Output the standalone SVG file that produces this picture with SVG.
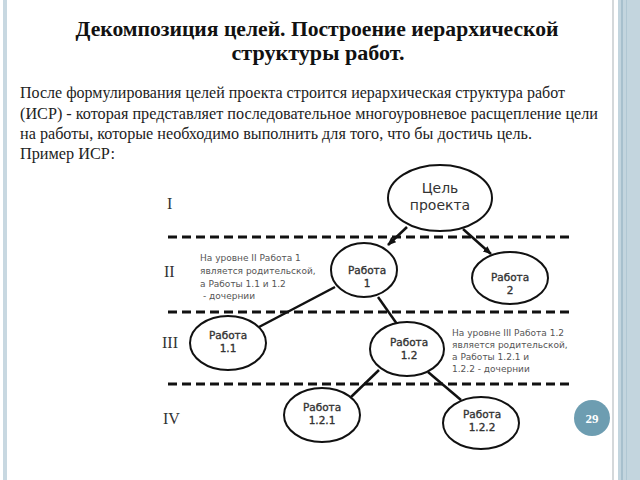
<svg xmlns="http://www.w3.org/2000/svg" width="640" height="480" viewBox="0 0 640 480">
<defs>
<style>
.title{font-family:"Liberation Serif","Times New Roman",serif;font-weight:bold;font-size:21px;fill:#111;text-anchor:middle}
.body{font-family:"Liberation Serif","Times New Roman",serif;font-size:16px;fill:#222}
.roman{font-family:"Liberation Serif","Times New Roman",serif;font-size:16px;fill:#333}
.node ellipse{fill:#fff;stroke:#111;stroke-width:2}
.nt{font-family:"DejaVu Sans",Verdana,sans-serif;font-size:10.5px;fill:#333;stroke:#333;stroke-width:0.35;text-anchor:middle}
.nt2{font-family:"DejaVu Sans",Verdana,sans-serif;font-size:14px;fill:#333;text-anchor:middle}
.note{font-family:"DejaVu Sans",Verdana,sans-serif;font-size:9px;fill:#555}
.dash{stroke:#111;stroke-width:3;stroke-dasharray:9 5;fill:none}
.conn line{stroke:#111;stroke-width:2.5}
</style>
<marker id="arr" viewBox="0 0 10 10" refX="9" refY="5" markerWidth="3.5" markerHeight="3.5" orient="auto" markerUnits="strokeWidth">
<path d="M0,1 L10,5 L0,9 z" fill="#111"/>
</marker>
</defs>
<rect width="640" height="480" fill="#fff"/>
<rect x="3" y="0" width="4" height="480" fill="#c8d8e1"/>
<rect x="612" y="0" width="2" height="480" fill="#d4d8da"/>
<rect x="618" y="0" width="22" height="480" fill="#c3d5de"/>
<rect x="621" y="0" width="2" height="480" fill="#a7c0cd"/>
<rect x="626" y="0" width="1" height="480" fill="#b0c7d3"/>

<text class="title" x="317" y="36" textLength="483" lengthAdjust="spacingAndGlyphs">Декомпозиция целей. Построение иерархической</text>
<text class="title" x="318" y="60" textLength="173" lengthAdjust="spacingAndGlyphs">структуры работ.</text>

<text class="body" x="20" y="98" textLength="545" lengthAdjust="spacingAndGlyphs">После формулирования целей проекта строится иерархическая структура работ</text>
<text class="body" x="20" y="119" textLength="578" lengthAdjust="spacingAndGlyphs">(ИСР) - которая представляет последовательное многоуровневое расщепление цели</text>
<text class="body" x="20" y="139" textLength="512" lengthAdjust="spacingAndGlyphs">на работы, которые необходимо выполнить для того, что бы достичь цель.</text>
<text class="body" x="20" y="159" textLength="95" lengthAdjust="spacingAndGlyphs">Пример ИСР:</text>

<g id="levels">
<line class="dash" x1="168" y1="237" x2="572" y2="237"/>
<line class="dash" x1="168" y1="312" x2="572" y2="312"/>
<line class="dash" x1="168" y1="384" x2="572" y2="384"/>
<text class="roman" x="167" y="209">I</text>
<text class="roman" x="164" y="277">II</text>
<text class="roman" x="162" y="348">III</text>
<text class="roman" x="163" y="424">IV</text>
</g>

<g id="connectors" class="conn">
<line x1="407" y1="227" x2="388" y2="245" marker-end="url(#arr)"/>
<line x1="463" y1="229" x2="491" y2="254" marker-end="url(#arr)"/>
<line x1="335" y1="287" x2="259" y2="327"/>
<line x1="378" y1="297" x2="397" y2="324"/>
<line x1="379" y1="370" x2="351" y2="397"/>
<line x1="428" y1="372" x2="461" y2="400"/>
</g>

<g id="goal" class="node"><ellipse cx="440" cy="198" rx="52" ry="33"/>
<text class="nt2" x="440" y="193">Цель</text><text class="nt2" x="440" y="210">проекта</text></g>
<g id="w1" class="node"><ellipse cx="364" cy="270" rx="33" ry="27"/>
<text class="nt" x="367" y="274">Работа</text><text class="nt" x="367" y="287">1</text></g>
<g id="w2" class="node"><ellipse cx="510" cy="278" rx="38" ry="26"/>
<text class="nt" x="510" y="281">Работа</text><text class="nt" x="510" y="294">2</text></g>
<g id="w11" class="node"><ellipse cx="228" cy="343" rx="38" ry="27"/>
<text class="nt" x="228" y="339">Работа</text><text class="nt" x="228" y="352">1.1</text></g>
<g id="w12" class="node"><ellipse cx="407" cy="349" rx="37" ry="27"/>
<text class="nt" x="409" y="346">Работа</text><text class="nt" x="409" y="359">1.2</text></g>
<g id="w121" class="node"><ellipse cx="322" cy="415" rx="38" ry="27"/>
<text class="nt" x="322" y="411">Работа</text><text class="nt" x="322" y="424">1.2.1</text></g>
<g id="w122" class="node"><ellipse cx="481" cy="423" rx="38" ry="26"/>
<text class="nt" x="482" y="418">Работа</text><text class="nt" x="482" y="431">1.2.2</text></g>

<g id="note1">
<text class="note" x="200" y="261">На уровне II Работа 1</text>
<text class="note" x="200" y="274">является родительской,</text>
<text class="note" x="200" y="287">а Работы 1.1 и 1.2</text>
<text class="note" x="203" y="299">- дочернии</text>
</g>
<g id="note2">
<text class="note" x="452" y="336">На уровне III Работа 1.2</text>
<text class="note" x="452" y="348">является родительской,</text>
<text class="note" x="452" y="360">а Работы 1.2.1 и</text>
<text class="note" x="452" y="372">1.2.2 - дочернии</text>
</g>

<g id="page">
<circle cx="592" cy="418" r="18" fill="#6d9db1"/>
<text x="592" y="423" text-anchor="middle" font-family="Liberation Serif, serif" font-weight="bold" font-size="13" fill="#fff">29</text>
</g>
</svg>
